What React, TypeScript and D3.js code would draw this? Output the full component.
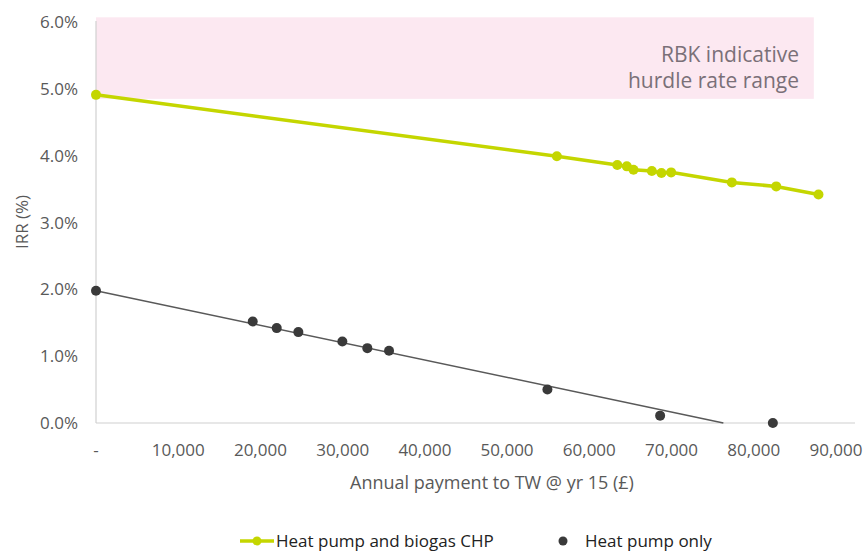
import { useEffect, useRef } from 'react';
import * as d3 from 'd3';

// Heat pump and biogas CHP scenario
const chpPayment = [0, 56050, 63400, 64560, 65370, 67600, 68770, 69950, 77330, 82730, 87870];
const chpIrr = [4.91, 3.99, 3.86, 3.84, 3.79, 3.77, 3.74, 3.75, 3.60, 3.54, 3.42];

// Heat pump only scenario
const hpPayment = [0, 19060, 21980, 24610, 29960, 33000, 35640, 54900, 68610, 82320];
const hpIrr = [1.98, 1.52, 1.42, 1.36, 1.22, 1.12, 1.08, 0.50, 0.11, 0.0];

// linear trend for heat pump only (start / zero crossing)
const hpTrendX = [0, 76300];
const hpTrendY = [1.98, 0];

const xTicks = [0, 10000, 20000, 30000, 40000, 50000, 60000, 70000, 80000, 90000];
const yTicks = [0, 1, 2, 3, 4, 5, 6];

// indicative hurdle rate band
const bandX = [0, 87300];
const bandY = [4.85, 6.07];

const GREEN = '#c4d600';
const DARK = '#3a3a3a';
const FONT = "'Open Sans', 'Noto Sans', sans-serif";

export default function App() {
  const svgRef = useRef<SVGSVGElement>(null);

  useEffect(() => {
    if (!svgRef.current) return;
    const svg = d3.select(svgRef.current);
    svg.selectAll('*').remove();

    const x = d3.scaleLinear().domain([0, 90000]).range([96, 836]);
    const y = d3.scaleLinear().domain([0, 6]).range([423, 22]);

    // hurdle band
    svg.append('rect')
      .attr('x', x(bandX[0]))
      .attr('y', y(bandY[1]))
      .attr('width', x(bandX[1]) - x(bandX[0]))
      .attr('height', y(bandY[0]) - y(bandY[1]))
      .attr('fill', '#fce8f1');

    svg.append('text')
      .attr('x', 799)
      .attr('y', 62)
      .attr('text-anchor', 'end')
      .style('font-family', FONT)
      .style('font-size', '21px')
      .attr('fill', '#7a7078')
      .text('RBK indicative');
    svg.append('text')
      .attr('x', 799)
      .attr('y', 88)
      .attr('text-anchor', 'end')
      .style('font-family', FONT)
      .style('font-size', '21px')
      .attr('fill', '#7a7078')
      .text('hurdle rate range');

    // axis lines
    svg.append('line')
      .attr('x1', x(0)).attr('x2', x(0))
      .attr('y1', y(6) - 1).attr('y2', y(0))
      .attr('stroke', '#d0d0d0').attr('stroke-width', 1.2);
    svg.append('line')
      .attr('x1', x(0)).attr('x2', 855)
      .attr('y1', y(0)).attr('y2', y(0))
      .attr('stroke', '#d0d0d0').attr('stroke-width', 1.2);

    // tick labels
    const fmtX = d3.format(',');
    svg.append('g')
      .selectAll('text')
      .data(xTicks)
      .enter()
      .append('text')
      .attr('x', d => x(d))
      .attr('y', 456)
      .attr('text-anchor', 'middle')
      .style('font-family', FONT)
      .style('font-size', '17px')
      .attr('fill', '#595959')
      .text(d => (d === 0 ? '-' : fmtX(d)));

    svg.append('g')
      .selectAll('text')
      .data(yTicks)
      .enter()
      .append('text')
      .attr('x', 78)
      .attr('y', d => y(d) + 6)
      .attr('text-anchor', 'end')
      .style('font-family', FONT)
      .style('font-size', '17px')
      .attr('fill', '#595959')
      .text(d => `${d.toFixed(1)}%`);

    // axis titles
    svg.append('text')
      .attr('x', 492)
      .attr('y', 489)
      .attr('text-anchor', 'middle')
      .style('font-family', FONT)
      .style('font-size', '18px')
      .attr('fill', '#595959')
      .text('Annual payment to TW @ yr 15 (£)');

    svg.append('text')
      .attr('transform', 'rotate(-90)')
      .attr('x', -222)
      .attr('y', 28)
      .attr('text-anchor', 'middle')
      .style('font-family', FONT)
      .style('font-size', '17px')
      .attr('fill', '#595959')
      .text('IRR (%)');

    // heat pump only trend line
    const line = d3.line<[number, number]>()
      .x(d => x(d[0]))
      .y(d => y(d[1]));

    svg.append('path')
      .datum(hpTrendX.map((v, i) => [v, hpTrendY[i]] as [number, number]))
      .attr('d', line)
      .attr('fill', 'none')
      .attr('stroke', '#595959')
      .attr('stroke-width', 1.5);

    svg.append('g')
      .selectAll('circle')
      .data(hpPayment.map((v, i) => [v, hpIrr[i]] as [number, number]))
      .enter()
      .append('circle')
      .attr('cx', d => x(d[0]))
      .attr('cy', d => y(d[1]))
      .attr('r', 5)
      .attr('fill', DARK);

    // heat pump + biogas CHP line
    const chpData = chpPayment.map((v, i) => [v, chpIrr[i]] as [number, number]);
    svg.append('path')
      .datum(chpData)
      .attr('d', line)
      .attr('fill', 'none')
      .attr('stroke', GREEN)
      .attr('stroke-width', 3.5);

    svg.append('g')
      .selectAll('circle')
      .data(chpData)
      .enter()
      .append('circle')
      .attr('cx', d => x(d[0]))
      .attr('cy', d => y(d[1]))
      .attr('r', 5)
      .attr('fill', GREEN);

    // legend
    const leg = svg.append('g');
    leg.append('line')
      .attr('x1', 240).attr('x2', 274)
      .attr('y1', 541).attr('y2', 541)
      .attr('stroke', GREEN).attr('stroke-width', 3.5);
    leg.append('circle').attr('cx', 257).attr('cy', 541).attr('r', 4.5).attr('fill', GREEN);
    leg.append('text')
      .attr('x', 276).attr('y', 547)
      .style('font-family', FONT)
      .style('font-size', '17px')
      .attr('fill', '#222')
      .text('Heat pump and biogas CHP');
    leg.append('circle').attr('cx', 563).attr('cy', 541).attr('r', 4.5).attr('fill', DARK);
    leg.append('text')
      .attr('x', 585).attr('y', 547)
      .style('font-family', FONT)
      .style('font-size', '17px')
      .attr('fill', '#222')
      .text('Heat pump only');
  }, []);

  return (
    <div style={{ position: 'absolute', left: 0, top: 0 }}>
      <svg ref={svgRef} width={865} height={557} style={{ display: 'block', background: '#fff' }}></svg>
    </div>
  );
}
